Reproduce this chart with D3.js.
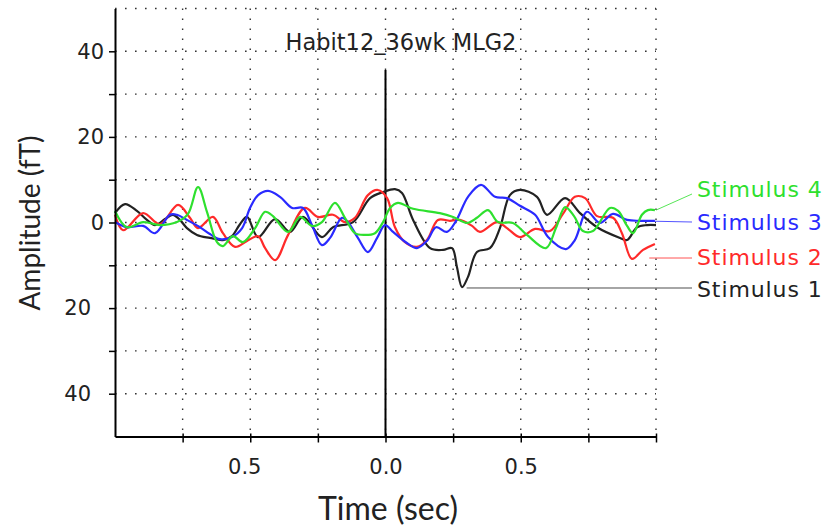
<!DOCTYPE html>
<html>
<head>
<meta charset="utf-8">
<script src="https://cdn.jsdelivr.net/npm/d3@7"></script>
<style>
  body { margin: 0; background: #fff; }
  svg { display: block; }
</style>
</head>
<body>
<script>
// chart data : [time (sec), amplitude (fT)]
const stim1 = [[-1.000,2.2],[-0.963,4.3],[-0.919,2.7],[-0.882,0.6],[-0.852,-0.6],[-0.815,0.8],[-0.786,1.8],[-0.760,0.6],
  [-0.734,-1.3],[-0.697,-2.9],[-0.649,-3.6],[-0.601,-4.1],[-0.568,-3.2],[-0.538,-0.4],[-0.512,1.3],[-0.471,-3.4],
  [-0.408,0.8],[-0.353,-2.2],[-0.305,1.3],[-0.235,-3.4],[-0.194,-1.1],[-0.120,0.1],[-0.057,5.7],[-0.009,7.1],
  [0.035,7.8],[0.061,6.9],[0.102,0.6],[0.165,-6.0],[0.213,-6.4],[0.246,-6.0],[0.264,-10.4],[0.283,-15.1],
  [0.305,-12.7],[0.338,-6.9],[0.386,-6.0],[0.423,-1.3],[0.460,6.4],[0.497,7.6],[0.560,6.0],[0.597,1.8],
  [0.664,5.7],[0.719,2.2],[0.782,-1.1],[0.867,-3.6],[0.893,-4.1],[0.930,-1.1],[0.967,-0.6],[1.000,-0.6]];

const stim2 = [[-1.000,1.8],[-0.970,-1.8],[-0.896,2.2],[-0.834,-0.4],[-0.767,4.1],[-0.723,1.1],[-0.693,-1.3],
  [-0.638,1.3],[-0.601,-2.5],[-0.556,-5.7],[-0.512,-4.3],[-0.471,-3.2],[-0.445,-6.0],[-0.408,-8.8],[-0.360,-2.9],
  [-0.298,3.4],[-0.250,1.3],[-0.194,1.8],[-0.150,0.1],[-0.113,1.1],[-0.065,6.4],[-0.028,7.6],[0.006,5.7],
  [0.035,-1.1],[0.072,-4.6],[0.116,-5.7],[0.153,-4.1],[0.194,0.6],[0.238,0.4],[0.275,0.6],[0.320,-0.8],
  [0.349,-2.2],[0.412,0.1],[0.449,-1.3],[0.497,-3.4],[0.553,-1.5],[0.608,-2.0],[0.656,2.0],[0.700,6.0],
  [0.738,5.7],[0.782,1.5],[0.841,1.1],[0.874,-2.5],[0.911,-8.5],[0.952,-6.4],[0.996,-5.0]];

const stim3 = [[-1.000,0.1],[-0.956,-1.1],[-0.896,-0.8],[-0.852,-2.5],[-0.797,1.8],[-0.771,1.8],[-0.734,0.6],
  [-0.686,-1.1],[-0.649,-2.7],[-0.612,-3.9],[-0.568,-3.4],[-0.530,-1.3],[-0.501,3.4],[-0.471,6.4],[-0.434,7.4],
  [-0.390,6.0],[-0.345,3.4],[-0.305,3.4],[-0.272,-0.6],[-0.235,-5.3],[-0.205,-3.6],[-0.161,1.1],[-0.139,0.1],
  [-0.102,-3.6],[-0.065,-6.9],[-0.031,-3.6],[-0.002,-0.6],[0.028,-2.2],[0.079,-4.8],[0.116,-6.0],[0.153,-4.3],
  [0.187,-1.1],[0.227,-2.2],[0.261,0.4],[0.305,6.0],[0.353,8.8],[0.405,6.0],[0.449,5.7],[0.497,3.9],
  [0.553,1.8],[0.601,-3.4],[0.667,-6.2],[0.700,-4.1],[0.745,2.5],[0.793,-0.1],[0.841,2.0],[0.893,0.6],
  [0.941,0.4],[0.996,0.4]];

const stim4 = [[-1.000,2.7],[-0.956,-1.1],[-0.896,0.1],[-0.834,-0.6],[-0.771,0.1],[-0.730,2.0],[-0.693,8.3],
  [-0.660,2.5],[-0.623,-4.6],[-0.601,-5.5],[-0.564,-3.2],[-0.527,-4.6],[-0.482,-1.3],[-0.445,2.5],[-0.416,1.5],
  [-0.360,-2.2],[-0.316,1.3],[-0.272,-0.8],[-0.235,0.1],[-0.187,4.6],[-0.150,1.1],[-0.113,-2.5],[-0.076,-2.9],
  [-0.039,-2.5],[-0.009,0.1],[0.017,3.4],[0.046,4.6],[0.102,3.2],[0.201,2.2],[0.250,1.3],[0.301,-0.1],
  [0.338,1.1],[0.379,2.9],[0.416,0.1],[0.471,-0.1],[0.523,-2.9],[0.593,-6.0],[0.630,-1.3],[0.664,3.6],
  [0.697,1.5],[0.730,-2.0],[0.767,-2.0],[0.830,3.4],[0.860,2.7],[0.893,-0.8],[0.915,-2.5],[0.948,1.8],
  [0.970,2.9],[0.996,2.9]];

const seriesNames = ["Stimulus 1", "Stimulus 2", "Stimulus 3", "Stimulus 4"];
const seriesColors = ["#222222", "#ff2a2a", "#2a2aff", "#2ee02e"];
// point on each trace where the label leader starts
const leaderFrom = [[0.30,-15.3],[0.975,-8.3],[0.99,0.3],[1.0,2.9]];

const yTicks = [-40,-30,-20,-10,0,10,20,30,40];
const xTicks = [-0.75,-0.5,-0.25,0,0.25,0.5,0.75,1];
const title = "Habit12_36wk MLG2";

const W = 824, H = 532;
const svg = d3.select("body").append("svg").attr("width", W).attr("height", H);

const x = d3.scaleLinear().domain([-1, 1]).range([115, 656]);
const y = d3.scaleLinear().domain([-50, 50]).range([436.5, 8.5]);

// dotted grid
const grid = svg.append("g").attr("stroke", "#333").attr("stroke-width", 1.4).attr("stroke-dasharray", "1.6,8.4");
grid.selectAll(".vg").data(xTicks).enter().append("line")
  .attr("x1", d => x(d)).attr("x2", d => x(d)).attr("y1", y(50)).attr("y2", y(-50));
grid.selectAll(".hg").data(yTicks.concat([50])).enter().append("line")
  .attr("y1", d => y(d)).attr("y2", d => y(d)).attr("x1", x(-1)).attr("x2", x(1));

// stimulus onset
svg.append("line").attr("x1", x(0)).attr("x2", x(0)).attr("y1", 70).attr("y2", y(-50))
  .attr("stroke", "#000").attr("stroke-width", 2);

// traces
const line = d3.line().x(d => x(d[0])).y(d => y(d[1])).curve(d3.curveCatmullRom.alpha(0.5));
const all = [stim1, stim2, stim3, stim4];
svg.selectAll(".trace").data(all).enter().append("path")
  .attr("d", d => line(d)).attr("fill", "none")
  .attr("stroke", (d, i) => seriesColors[i]).attr("stroke-width", 2.2);

// axes
const yAxis = d3.axisLeft(y).tickValues(yTicks).tickSize(6).tickSizeOuter(0).tickPadding(5)
  .tickFormat(d => d % 20 === 0 ? Math.abs(d) : "");
const gy = svg.append("g").attr("transform", `translate(${x(-1)},0)`).call(yAxis);
gy.selectAll("text").attr("dx", d => d < 0 ? -13 : 0);

const xAxis = d3.axisBottom(x).tickValues(xTicks).tickSize(6).tickSizeOuter(0).tickPadding(17)
  .tickFormat(d => Math.abs(d) === 0.5 || d === 0 ? Math.abs(d).toFixed(1) : "");
const gx = svg.append("g").attr("transform", `translate(0,${y(-50)})`).call(xAxis);
gx.selectAll(".tick line").attr("y1", -3);
gx.selectAll("text").attr("dx", d => d < 0 ? -6 : 0);

svg.selectAll(".domain").attr("stroke", "#000").attr("stroke-width", 2);
svg.selectAll(".tick line").attr("stroke", "#000").attr("stroke-width", 1.5);
svg.selectAll(".tick text").attr("font-family", "DejaVu Sans").attr("font-size", 21).attr("fill", "#222");

// titles
svg.append("text").attr("x", 401).attr("y", 50).attr("text-anchor", "middle")
  .attr("font-family", "DejaVu Sans").attr("font-size", 22.5).attr("fill", "#222").text(title);
svg.append("text").attr("x", 388).attr("y", 520).attr("text-anchor", "middle")
  .attr("font-family", "Lato").attr("font-size", 32).attr("fill", "#222").text("Time (sec)");
svg.append("text").attr("transform", "translate(40,223) rotate(-90)").attr("text-anchor", "middle")
  .attr("font-family", "Lato").attr("font-size", 28).attr("fill", "#222").text("Amplitude (fT)");

// labels with leader lines
const labelY = [289, 257, 222, 189];
const leaderY = [288, 258, 222, 194];
svg.selectAll(".leader").data(leaderFrom).enter().append("line")
  .attr("x1", d => x(d[0])).attr("y1", d => y(d[1]))
  .attr("x2", 692).attr("y2", (d, i) => leaderY[i])
  .attr("stroke", (d, i) => seriesColors[i]).attr("stroke-width", 1).attr("opacity", 0.8);
svg.selectAll(".lab").data(seriesNames).enter().append("text")
  .attr("x", 697).attr("y", (d, i) => labelY[i]).attr("dy", "0.35em")
  .attr("font-family", "DejaVu Sans").attr("font-size", 22).attr("letter-spacing", 0.9)
  .attr("fill", (d, i) => seriesColors[i]).text(d => d);
</script>
</body>
</html>
